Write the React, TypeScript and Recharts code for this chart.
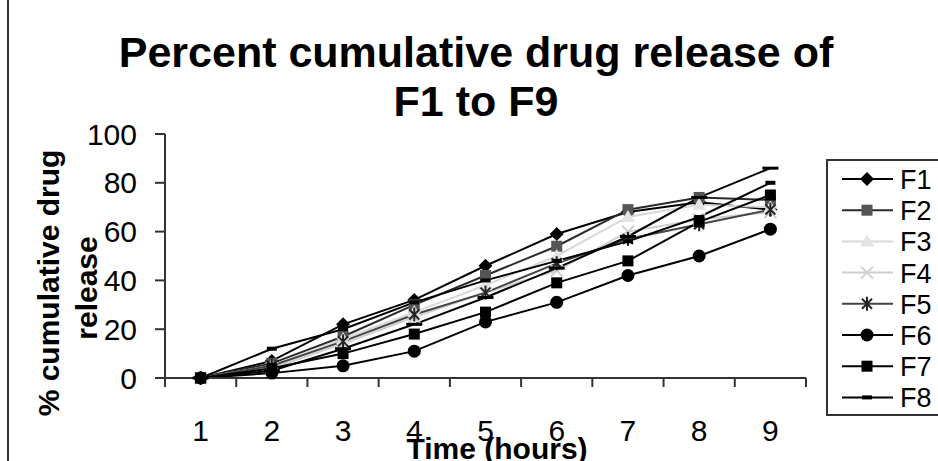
import React from "react";
import { LineChart, Line, XAxis, YAxis } from "recharts";

const hours = [1, 2, 3, 4, 5, 6, 7, 8, 9];
const f1 = [0, 7, 22, 32, 46, 59, 68, 72, 69];
const f2 = [0, 6, 17, 30, 42, 54, 69, 74, 73];
const f3 = [0, 5, 16, 27, 38, 50, 66, 71, 70];
const f4 = [0, 4, 14, 25, 35, 44, 60, 65, 68];
const f5 = [0, 5, 15, 26, 35, 47, 57, 63, 69];
const f6 = [0, 2, 5, 11, 23, 31, 42, 50, 61];
const f7 = [0, 4, 10, 18, 27, 39, 48, 64, 75];
const f8 = [0, 12, 20, 31, 40, 48, 56, 66, 80];
const f9 = [0, 3, 12, 22, 33, 45, 58, 74, 86];

const seriesNames = ["F1", "F2", "F3", "F4", "F5", "F6", "F7", "F8", "F9"];
const seriesValues = [f1, f2, f3, f4, f5, f6, f7, f8, f9];
const legendNames = ["F1", "F2", "F3", "F4", "F5", "F6", "F7", "F8"];
const yTicks = [0, 20, 40, 60, 80, 100];
const xTicks = [0.5, 1, 1.5, 2, 2.5, 3, 3.5, 4, 4.5, 5, 5.5, 6, 6.5, 7, 7.5, 8, 8.5, 9, 9.5];

const FONT = "Arial, 'Liberation Sans', sans-serif";

// line colour + marker for each series
const looks = [
  { stroke: "#000", fill: "#000", marker: "diamond" },
  { stroke: "#2a2a2a", fill: "#555", marker: "square" },
  { stroke: "#d8d8d8", fill: "#e4e4e4", marker: "triangle" },
  { stroke: "#cfcfcf", fill: "#cfcfcf", marker: "x" },
  { stroke: "#444", fill: "#222", marker: "star" },
  { stroke: "#000", fill: "#000", marker: "circle" },
  { stroke: "#000", fill: "#000", marker: "square" },
  { stroke: "#000", fill: "#000", marker: "dash" },
  { stroke: "#000", fill: "#000", marker: "longdash" },
];

const data = hours.map((h, i) => {
  const row: Record<string, number> = { hour: h };
  seriesNames.forEach((n, s) => (row[n] = seriesValues[s][i]));
  return row;
});

function Marker({ kind, x, y, fill }: { kind: string; x: number; y: number; fill: string }) {
  switch (kind) {
    case "diamond":
      return <polygon points={`${x},${y - 7} ${x + 7},${y} ${x},${y + 7} ${x - 7},${y}`} fill={fill} />;
    case "square":
      return <rect x={x - 5.5} y={y - 5.5} width={11} height={11} fill={fill} />;
    case "triangle":
      return <polygon points={`${x},${y - 7} ${x + 7},${y + 5} ${x - 7},${y + 5}`} fill={fill} />;
    case "x":
      return (
        <g stroke={fill} strokeWidth={2}>
          <line x1={x - 6} y1={y - 6} x2={x + 6} y2={y + 6} />
          <line x1={x - 6} y1={y + 6} x2={x + 6} y2={y - 6} />
        </g>
      );
    case "star":
      return (
        <g stroke={fill} strokeWidth={2}>
          <line x1={x - 5} y1={y - 5} x2={x + 5} y2={y + 5} />
          <line x1={x - 5} y1={y + 5} x2={x + 5} y2={y - 5} />
          <line x1={x} y1={y - 7} x2={x} y2={y + 7} />
        </g>
      );
    case "circle":
      return <circle cx={x} cy={y} r={6.5} fill={fill} />;
    case "dash":
      return <rect x={x - 5} y={y - 2} width={10} height={4} fill={fill} />;
    default:
      return <rect x={x - 8} y={y - 1.5} width={16} height={3} fill={fill} />;
  }
}

function XTick({ x, y, payload }: any) {
  const v = payload.value;
  if (Number.isInteger(v)) {
    return (
      <text x={x} y={y + 63} textAnchor="middle" fontSize={30} fontFamily={FONT} fill="#000">
        {v}
      </text>
    );
  }
  return <line x1={x} y1={y} x2={x} y2={y + 9} stroke="#333" strokeWidth={2} />;
}

export default function App() {
  return (
    <div style={{ position: "fixed", left: 0, top: 0, width: 938, height: 461, background: "#fff" }}>
      <LineChart width={938} height={461} data={data} margin={{ top: 134, right: 132, bottom: 53, left: 105 }}>
        <XAxis
          dataKey="hour"
          type="number"
          domain={[0.5, 9.5]}
          ticks={xTicks}
          interval={0}
          height={30}
          tickSize={0}
          tickMargin={0}
          tickLine={false}
          tick={<XTick />}
          axisLine={{ stroke: "#333", strokeWidth: 2 }}
        />
        <YAxis
          type="number"
          domain={[0, 100]}
          ticks={yTicks}
          width={60}
          tickSize={10}
          tickMargin={18}
          tickLine={{ stroke: "#333", strokeWidth: 2 }}
          axisLine={{ stroke: "#333", strokeWidth: 2 }}
          tick={{ fontSize: 30, fill: "#000", fontFamily: FONT }}
        />
        {seriesNames.map((name, s) => (
          <Line
            key={name}
            dataKey={name}
            stroke={looks[s].stroke}
            strokeWidth={2}
            isAnimationActive={false}
            dot={(p: any) => (
              <Marker key={`${name}-${p.index}`} kind={looks[s].marker} x={p.cx} y={p.cy} fill={looks[s].fill} />
            )}
            activeDot={false}
          />
        ))}
      </LineChart>
      <svg width={938} height={461} style={{ position: "absolute", left: 0, top: 0, pointerEvents: "none" }}>
        <line x1={8} y1={0} x2={8} y2={461} stroke="#333" strokeWidth={2} />
        <g fontFamily={FONT} fontWeight="bold" fill="#000">
          <text x={476} y={67} textAnchor="middle" fontSize={43}>
            Percent cumulative drug release of
          </text>
          <text x={476} y={116} textAnchor="middle" fontSize={43}>
            F1 to F9
          </text>
          <text x={59} y={283} textAnchor="middle" fontSize={30} transform="rotate(-90 59 283)">
            % cumulative drug
          </text>
          <text x={97} y={288} textAnchor="middle" fontSize={30} transform="rotate(-90 97 288)">
            release
          </text>
          <text x={497} y={459} textAnchor="middle" fontSize={30}>
            Time (hours)
          </text>
        </g>
        <rect x={827} y={160} width={130} height={255} fill="#fff" stroke="#333" strokeWidth={2} />
        {legendNames.map((name, i) => {
          const cy = 179 + 31.2 * i;
          const look = looks[i];
          return (
            <g key={name}>
              <line x1={842} y1={cy} x2={893} y2={cy} stroke={look.stroke} strokeWidth={2} />
              <Marker kind={look.marker} x={867} y={cy} fill={look.fill} />
              <text x={900} y={cy + 10} fontSize={27} fontFamily={FONT} fill="#000">
                {name}
              </text>
            </g>
          );
        })}
      </svg>
    </div>
  );
}
